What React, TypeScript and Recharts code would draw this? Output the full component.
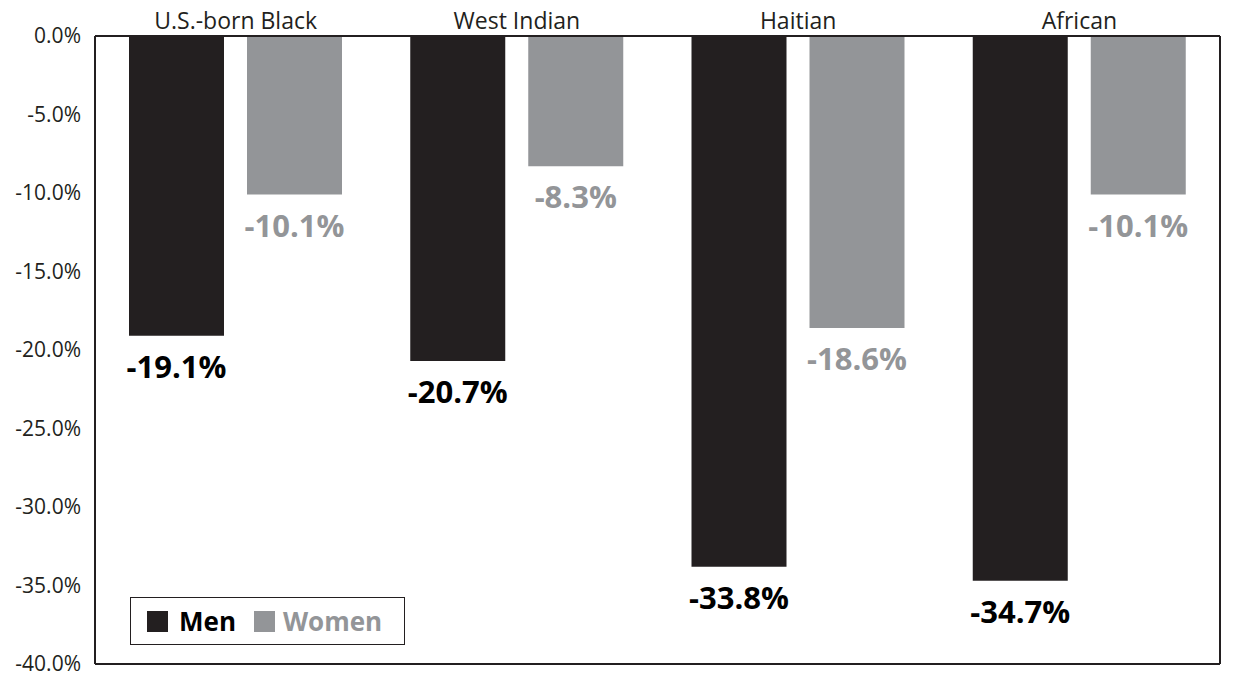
import { BarChart, Bar, XAxis, YAxis, LabelList } from "recharts";

// 出生地別の変化率（男女）
const categories = ["U.S.-born Black", "West Indian", "Haitian", "African"];
const menValues = [-19.1, -20.7, -33.8, -34.7];
const womenValues = [-10.1, -8.3, -18.6, -10.1];
const yTicks = [0, -5, -10, -15, -20, -25, -30, -35, -40];

const COLORS = {
  men: "#231f20",
  women: "#939598",
  border: "#231f20",
};

const FONT = "'Open Sans', 'Noto Sans', sans-serif";

const data = categories.map((name, i) => ({
  name,
  men: menValues[i],
  women: womenValues[i],
}));

function formatPct(v: number): string {
  if (v === 0) return "0.0%";
  return `${v.toFixed(1)}%`;
}

function makeLabel(color: string) {
  return (props: any) => {
    const { x, y, width, height, value } = props;
    const bottom = Math.max(Number(y), Number(y) + Number(height));
    return (
      <text
        x={Number(x) + Number(width) / 2}
        y={bottom + 30}
        textAnchor="middle"
        dominantBaseline="central"
        fill={color}
        fontSize={31}
        fontWeight={700}
        fontFamily={FONT}
      >
        {formatPct(Number(value))}
      </text>
    );
  };
}

export default function App() {
  return (
    <div style={{ position: "absolute", left: 0, top: 0, width: 1235, height: 678, background: "#fff" }}>
      <BarChart
        width={1235}
        height={678}
        data={data}
        margin={{ top: 6, right: 14, bottom: 13, left: 0 }}
        barSize={95}
        barGap={23}
      >
        <XAxis
          dataKey="name"
          orientation="top"
          height={30}
          axisLine={{ stroke: COLORS.border, strokeWidth: 2 }}
          tickLine={false}
          tick={{ fontSize: 23, fill: "#231f20", fontFamily: FONT }}
          tickMargin={1}
        />
        <XAxis
          xAxisId="bottom"
          dataKey="name"
          orientation="bottom"
          height={1}
          axisLine={{ stroke: COLORS.border, strokeWidth: 2 }}
          tickLine={false}
          tick={false}
        />
        <YAxis
          domain={[-40, 0]}
          ticks={yTicks}
          width={95}
          axisLine={{ stroke: COLORS.border, strokeWidth: 2 }}
          tickLine={false}
          tickFormatter={formatPct}
          tick={{ fontSize: 21, fill: "#231f20", fontFamily: FONT }}
          tickMargin={8}
          interval={0}
        />
        <YAxis
          yAxisId="right"
          orientation="right"
          domain={[-40, 0]}
          width={1}
          axisLine={{ stroke: COLORS.border, strokeWidth: 2 }}
          tickLine={false}
          tick={false}
        />
        <Bar dataKey="men" fill={COLORS.men} isAnimationActive={false}>
          <LabelList dataKey="men" content={makeLabel("#000000")} />
        </Bar>
        <Bar dataKey="women" fill={COLORS.women} isAnimationActive={false}>
          <LabelList dataKey="women" content={makeLabel(COLORS.women)} />
        </Bar>
      </BarChart>
      <div
        style={{
          position: "absolute",
          left: 130,
          top: 597,
          width: 275,
          height: 48,
          border: "1.5px solid #231f20",
          background: "#fff",
          display: "flex",
          alignItems: "center",
          fontFamily: FONT,
          fontWeight: 700,
          fontSize: 26,
          boxSizing: "border-box",
        }}
      >
        <span style={{ display: "inline-block", width: 21, height: 21, background: COLORS.men, marginLeft: 16 }} />
        <span style={{ color: "#000", marginLeft: 11 }}>Men</span>
        <span style={{ display: "inline-block", width: 21, height: 21, background: COLORS.women, marginLeft: 18 }} />
        <span style={{ color: COLORS.women, marginLeft: 8 }}>Women</span>
      </div>
    </div>
  );
}
